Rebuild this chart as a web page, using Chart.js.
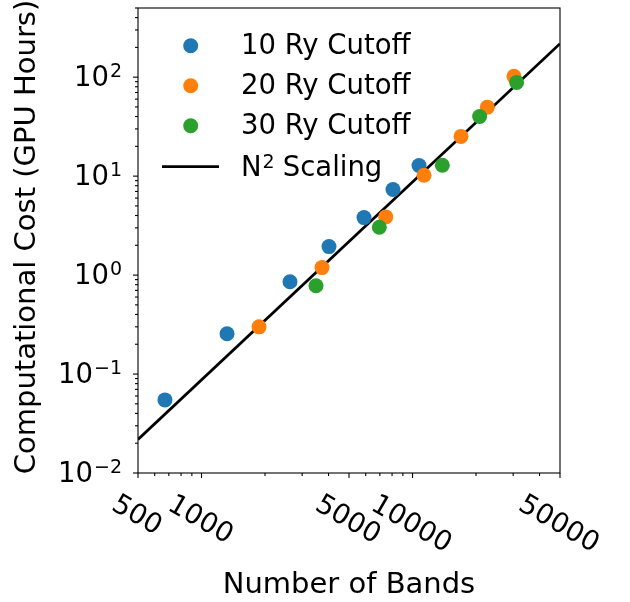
<!DOCTYPE html>
<html lang="en">
<head>
    <meta charset="UTF-8">
    <title>Computational Cost vs Number of Bands</title>
    <script src="https://cdn.jsdelivr.net/npm/chart.js"></script>
    <style>
        body { margin: 0; background: #fff; }
        #wrap { width: 630px; height: 602px; }
    </style>
</head>
<body>
    <div id="wrap"><canvas id="chart" width="630" height="602"></canvas></div>

    <script>
        // values
        const bands10 = [671, 1321, 2626, 4020, 5889, 8080, 10735];
        const cost10 = [0.0548, 0.255, 0.857, 1.94, 3.81, 7.32, 12.8];

        const bands20 = [1873, 3724, 7465, 11340, 16975, 22625, 30250];
        const cost20 = [0.30, 1.19, 3.87, 10.2, 25.2, 49.8, 101.9];

        const bands30 = [3488, 6960, 13845, 20800, 31150];
        const cost30 = [0.78, 3.04, 12.9, 40.1, 88.5];

        // N^2 reference line, end points
        const lineBands = [500, 50000];
        const lineCost = [0.0218, 218];

        const xTicks = [500, 1000, 5000, 10000, 50000];
        const yTicks = [0.01, 0.1, 1, 10, 100];
        const yTickExp = ['\u22122', '\u22121', '0', '1', '2'];

        const xMin = 500, xMax = 50000;
        const yMin = 0.01, yMax = 500;

        const FONT = '"DejaVu Sans", sans-serif';
        const FS = 27.5;
        const TITLE_FS = 29;

        const toPoints = (xs, ys) => xs.map((x, i) => ({ x: x, y: ys[i] }));

        function minorTicks(lo, hi) {
            const out = [];
            for (let d = Math.floor(Math.log10(lo)); d <= Math.ceil(Math.log10(hi)); d++) {
                for (let m = 1; m < 10; m++) {
                    const v = m * Math.pow(10, d);
                    if (v >= lo * 0.999 && v <= hi * 1.001) out.push(v);
                }
            }
            return out;
        }

        const axesPlugin = {
            id: 'axesPlugin',
            afterDraw(chart) {
                const ctx = chart.ctx;
                const a = chart.chartArea;
                const xs = chart.scales.x, ys = chart.scales.y;
                ctx.save();
                ctx.strokeStyle = '#000';
                ctx.fillStyle = '#000';
                ctx.lineWidth = 1.1;

                // frame
                ctx.strokeRect(a.left, a.top, a.right - a.left, a.bottom - a.top);

                // x ticks
                minorTicks(xMin, xMax).forEach(v => {
                    const px = xs.getPixelForValue(v);
                    const len = xTicks.includes(v) ? 5 : 3;
                    ctx.beginPath();
                    ctx.moveTo(px, a.bottom);
                    ctx.lineTo(px, a.bottom + len);
                    ctx.stroke();
                });
                // y ticks
                minorTicks(yMin, yMax).forEach(v => {
                    const py = ys.getPixelForValue(v);
                    const major = yTicks.some(t => Math.abs(t - v) / t < 1e-6);
                    const len = major ? 5 : 3;
                    ctx.beginPath();
                    ctx.moveTo(a.left, py);
                    ctx.lineTo(a.left - len, py);
                    ctx.stroke();
                });

                // x tick labels, rotated 30 deg clockwise
                ctx.font = FS + 'px ' + FONT;
                ctx.textAlign = 'center';
                ctx.textBaseline = 'alphabetic';
                xTicks.forEach(v => {
                    const label = String(v);
                    const px = xs.getPixelForValue(v);
                    const w = ctx.measureText(label).width;
                    const cy = 500.3 + w * 0.25;
                    ctx.save();
                    ctx.translate(px, cy);
                    ctx.rotate(Math.PI / 6);
                    ctx.fillText(label, 0, FS * 0.365);
                    ctx.restore();
                });

                // y tick labels 10^n
                yTicks.forEach((v, i) => {
                    const py = ys.getPixelForValue(v);
                    const right = 122;
                    ctx.font = '19px ' + FONT;
                    ctx.textAlign = 'right';
                    const ew = ctx.measureText(yTickExp[i]).width;
                    ctx.fillText(yTickExp[i], right, py + 0.3);
                    ctx.font = FS + 'px ' + FONT;
                    ctx.fillText('10', right - ew - 1, py + 9.3);
                });

                // axis titles
                ctx.font = TITLE_FS + 'px ' + FONT;
                ctx.textAlign = 'center';
                ctx.fillText('Number of Bands', (a.left + a.right) / 2, 592.5);
                ctx.save();
                ctx.translate(35, 237);
                ctx.rotate(-Math.PI / 2);
                ctx.fillText('Computational Cost (GPU Hours)', 0, 0);
                ctx.restore();

                // legend
                ctx.font = FS + 'px ' + FONT;
                const rows = [
                    { label: '10 Ry Cutoff', ds: 1, y: 45.7 },
                    { label: '20 Ry Cutoff', ds: 2, y: 85.7 },
                    { label: '30 Ry Cutoff', ds: 3, y: 125.7 }
                ];
                ctx.textAlign = 'left';
                rows.forEach(r => {
                    ctx.fillStyle = chart.data.datasets[r.ds].backgroundColor;
                    ctx.beginPath();
                    ctx.arc(190.7, r.y, 7.5, 0, Math.PI * 2);
                    ctx.fill();
                    ctx.fillStyle = '#000';
                    ctx.fillText(r.label, 241, r.y + 7.8);
                });
                ctx.strokeStyle = '#000';
                ctx.lineWidth = 2.8;
                ctx.beginPath();
                ctx.moveTo(162, 166.7);
                ctx.lineTo(219, 166.7);
                ctx.stroke();
                ctx.fillText('N', 241, 176);
                const nw = ctx.measureText('N').width;
                ctx.font = '19px ' + FONT;
                ctx.fillText('2', 241 + nw + 1, 167.5);
                ctx.font = FS + 'px ' + FONT;
                ctx.fillText('Scaling', 282.7, 176);

                ctx.restore();
            }
        };

        new Chart(document.getElementById('chart'), {
            type: 'scatter',
            data: {
                datasets: [
                    {
                        type: 'line',
                        label: 'N² Scaling',
                        data: toPoints(lineBands, lineCost),
                        borderColor: '#000',
                        borderWidth: 2.8,
                        pointRadius: 0,
                        fill: false,
                        order: 3
                    },
                    {
                        label: '10 Ry Cutoff',
                        data: toPoints(bands10, cost10),
                        backgroundColor: '#1f77b4',
                        borderWidth: 0,
                        pointRadius: 7.5,
                        order: 2
                    },
                    {
                        label: '20 Ry Cutoff',
                        data: toPoints(bands20, cost20),
                        backgroundColor: '#ff7f0e',
                        borderWidth: 0,
                        pointRadius: 7.5,
                        order: 1
                    },
                    {
                        label: '30 Ry Cutoff',
                        data: toPoints(bands30, cost30),
                        backgroundColor: '#2ca02c',
                        borderWidth: 0,
                        pointRadius: 7.5,
                        order: 0
                    }
                ]
            },
            options: {
                responsive: false,
                animation: false,
                layout: { padding: { left: 138, right: 70, top: 8, bottom: 129 } },
                plugins: {
                    legend: { display: false },
                    tooltip: { enabled: false }
                },
                scales: {
                    x: { type: 'logarithmic', min: xMin, max: xMax, display: false },
                    y: { type: 'logarithmic', min: yMin, max: yMax, display: false }
                }
            },
            plugins: [axesPlugin]
        });
    </script>
</body>
</html>
